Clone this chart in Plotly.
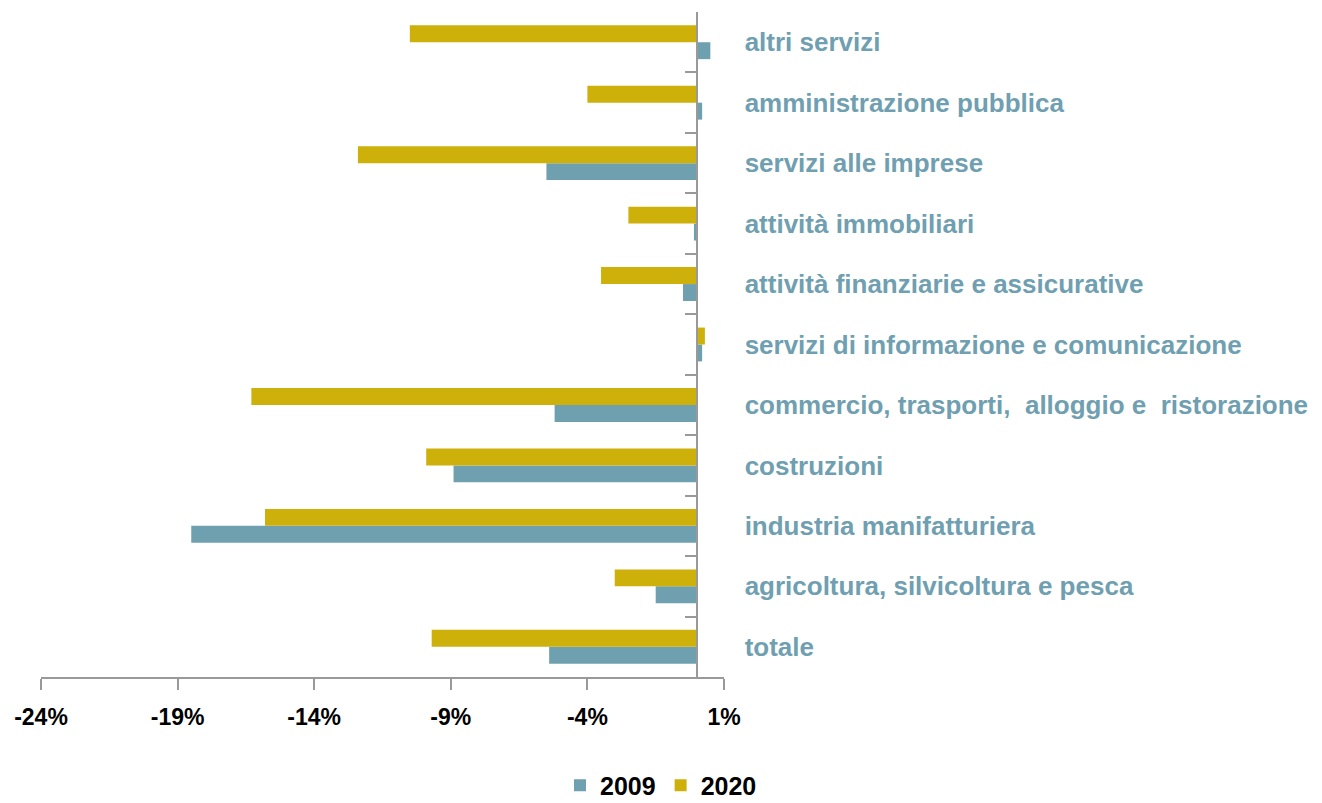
import plotly.graph_objects as go

categories = [
    "totale",
    "agricoltura, silvicoltura e pesca",
    "industria manifatturiera",
    "costruzioni",
    "commercio, trasporti,  alloggio e  ristorazione",
    "servizi di informazione e comunicazione",
    "attività finanziarie e assicurative",
    "attività immobiliari",
    "servizi alle imprese",
    "amministrazione pubblica",
    "altri servizi",
]
values_2009 = [-5.4, -1.5, -18.5, -8.9, -5.2, 0.2, -0.5, -0.1, -5.5, 0.2, 0.5]
values_2020 = [-9.7, -3.0, -15.8, -9.9, -16.3, 0.3, -3.5, -2.5, -12.4, -4.0, -10.5]
tick_values = [-24, -19, -14, -9, -4, 1]
tick_labels = ["-24%", "-19%", "-14%", "-9%", "-4%", "1%"]

FONT = "Liberation Sans Narrow, Arial Narrow, Liberation Sans, Arial, sans-serif"

fig = go.Figure()
fig.add_trace(go.Bar(name="2009", y=categories, x=values_2009, orientation="h",
                     marker=dict(color="#6fa0af", line=dict(width=0))))
fig.add_trace(go.Bar(name="2020", y=categories, x=values_2020, orientation="h",
                     marker=dict(color="#ceb00a", line=dict(width=0))))

fig.update_layout(
    width=1306, height=795,
    paper_bgcolor="white", plot_bgcolor="white",
    barmode="group", bargap=0.44, bargroupgap=0,
    margin=dict(l=33, r=590, t=4, b=126),
    font=dict(family=FONT),
    showlegend=True,
    legend=dict(orientation="h", xref="container", yref="container",
                x=0.5, xanchor="center", y=0.022, yanchor="middle",
                font=dict(family=FONT, size=25, color="black", weight="bold"),
                itemwidth=30, traceorder="normal"),
    xaxis=dict(range=[-24, 1], tickvals=tick_values, ticktext=tick_labels,
               showgrid=False, zeroline=False,
               showline=True, linecolor="#999999", linewidth=1.5,
               ticks="outside", ticklen=11, tickcolor="#999999", tickwidth=1.5,
               ticklabelstandoff=8,
               tickfont=dict(family=FONT, size=23, color="black", weight="bold")),
    yaxis=dict(type="category", anchor="free", position=24 / 25, side="right",
               showgrid=False, zeroline=False,
               showline=True, linecolor="#999999", linewidth=1.5,
               ticks="inside", tickson="boundaries", ticklen=11,
               tickcolor="#999999", tickwidth=1.5,
               ticklabelstandoff=42,
               tickfont=dict(family=FONT, size=26, color="#6f9fb0", weight="bold")),
)

fig.write_html("out.html")
